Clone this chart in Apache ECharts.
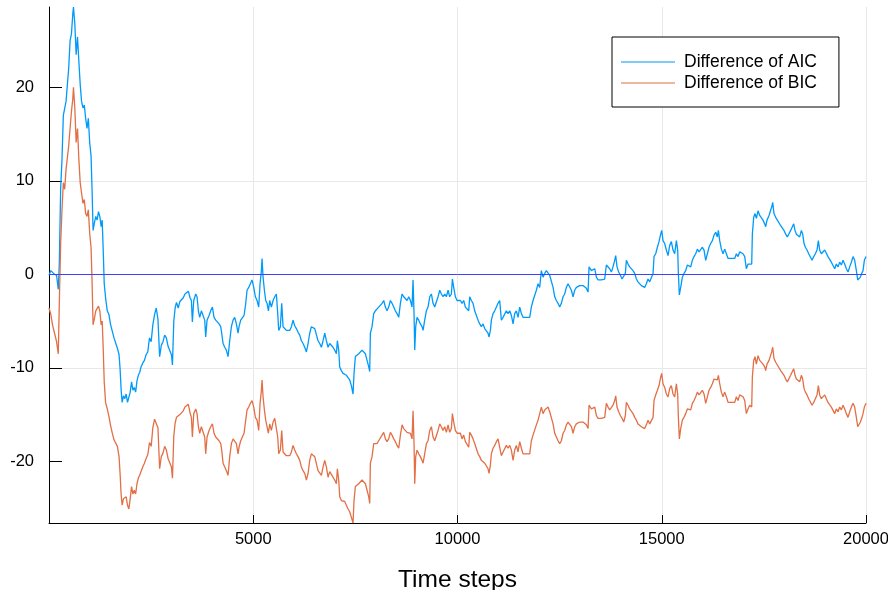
<!DOCTYPE html>
<html>
<head>
<meta charset="utf-8">
<script src="https://cdn.jsdelivr.net/npm/echarts@6/dist/echarts.min.js"></script>
<style>html,body{margin:0;padding:0;background:#fff;}#chart{width:888px;height:590px;}</style>
</head>
<body>
<div id="chart"></div>
<script>
// Time steps (x)
const steps = [
0,45,86,136,185,227,252,285,318,351,384,417,450,483,516,549,583,599,632,665,698,731,764,797,831,864,897,930,963,996,1029,
1054,1079,1112,1145,1178,1211,1244,1277,1302,1327,1352,1385,1426,1467,1509,1550,1591,1633,1674,1715,1740,1765,1790,
1823,1856,1889,1922,1955,1988,2021,2055,2088,2121,2154,2187,2220,2253,2294,2336,2377,2418,2460,2501,2542,2584,2625,2667,2708,2749,2791,2832,2873,2915,2956,2997,3022,
3055,3088,3121,3163,3204,3245,3287,3328,3369,3411,3452,
3486,3510,3543,3592,3624,3657,3690,3730,3771,3812,3836,3869,3918,3959,4000,4040,4081,4122,4163,4204,
4228,4261,4302,4342,4383,4424,4465,4506,4546,4587,4628,4652,4693,4734,4775,4816,4848,4889,4930,4971,
5012,5052,5093,5134,5167,5199,5216,5240,5273,5305,5338,5371,5403,5444,5485,5526,5566,5599,5624,5664,
5697,5730,5770,5811,5852,5893,5934,5974,6015,6056,6097,6138,6178,6219,6260,6301,6342,6382,6423,6464,
6505,6546,6586,6627,6668,6709,6750,6790,6831,6872,
6913,6953,6994,7035,7059,7092,7117,7157,7198,7239,7280,7321,7361,7402,7443,7467,7500,7541,7582,7623,
7663,7704,7745,7786,7827,7851,7867,7908,7949,7990,8031,8071,8112,8153,8194,8235,8275,8316,8357,8398,
8439,8479,8520,8561,8602,8643,8683,8724,8765,8806,8847,8887,8912,8936,8953,8977,9010,9051,9091,9132,
9157,9197,9238,9279,9320,9361,9401,9442,9483,9524,9565,9605,9646,9687,9728,9769,9809,9850,9875,9907,
9948,9989,10030,10071,10111,10152,10193,10234,10275,
10299,10340,10380,10421,10462,10503,10544,10584,10625,10666,10707,10748,10772,10805,
10829,10870,10911,10952,10992,11033,11074,11115,11156,11196,11237,11278,11319,11360,11400,11441,11482,11523,11564,11604,
11645,11686,11727,11768,11808,11849,11890,11931,11972,12012,12053,12094,12135,12176,12216,12257,12298,12339,12380,12420,
12461,12502,12543,12584,12624,12665,12706,12747,12788,12828,12869,12910,12951,12992,13032,13073,13114,13155,13196,
13220,13253,13277,13318,13359,13400,13440,13481,13522,13563,13604,13644,13685,13726,
13767,13807,13848,13873,13905,13946,13987,14028,14069,14109,14134,14175,14215,14256,14297,14338,14379,14419,14460,14501,
14542,14583,14623,14664,14705,14746,14787,14811,14852,14893,14933,14974,14999,15031,15072,15113,15154,15195,15235,15276,
15317,15358,15390,15407,15431,15464,15505,15545,15586,15627,15668,15709,15749,15790,15831,15872,15913,15953,15994,16035,
16076,16117,16157,16198,16239,16280,16321,16361,16386,16419,16459,16500,16541,16582,16623,16663,16704,16745,16786,16827,
16867,16908,16949,16990,17031,17071,17112,17153,
17202,17218,17251,17283,17316,17357,17398,17438,17479,17520,17544,17577,17626,17659,17691,17716,17748,17789,17830,17871,
17912,17952,17993,18034,18075,18116,18156,18197,18230,18263,18295,18336,18377,18418,18450,18483,18516,18556,18597,18638,
18679,18720,18760,18801,18834,18866,18907,18948,18989,19030,19070,19111,19152,19193,19234,19274,19315,19356,19397,19438,
19478,19519,19560,19601,19642,19682,19723,19764,19797,19829,19862,19895,19927,19960,20000
];

// Difference of AIC
const aicDiff = [
-0.1,0.4,0.6,0.0,-0.1,-1.6,1.1,9.1,12.3,17.0,17.0,18.5,20.3,22.1,25.0,25.7,27.9,28.6,26.8,23.5,25.4,22.8,20.3,18.5,17.8,18.1,16.7,15.6,16.7,14.1,12.7,
9.1,4.7,5.5,6.2,5.8,6.7,6.2,5.1,5.8,2.6,-1.0,-2.5,-3.9,-4.3,-5.4,-6.1,-6.8,-6.7,-7.9,-8.6,-10.1,-12.3,-13.7,
-13.0,-13.3,-12.8,-13.7,-13.9,-12.6,-11.5,-12.4,-12.1,-12.6,-11.4,-10.8,-10.5,-9.9,-9.5,-9.2,-8.6,-8.3,-6.8,-7.2,-5.4,-4.3,-3.6,-4.8,-8.8,-7.6,-7.2,-6.5,-6.8,-7.7,-7.9,-8.6,-9.7,
-5.0,-3.6,-3.0,-3.6,-2.9,-2.7,-2.5,-2.1,-2.3,-1.8,-2.5,
-2.8,-5.1,-2.8,-2.1,-2.4,-3.9,-4.6,-3.9,-3.9,-4.9,-6.7,-4.9,-4.4,-3.9,-3.5,-4.6,-4.9,-4.9,-5.3,-5.6,
-6.3,-7.4,-7.8,-8.1,-8.8,-7.1,-5.6,-4.9,-4.6,-5.3,-6.3,-5.6,-4.9,-5.1,-4.4,-3.1,-1.7,-1.4,-1.0,-0.6,
-1.4,-2.4,-2.8,-3.5,-1.0,0.4,1.7,-0.3,-1.7,-2.8,-3.1,-3.9,-2.8,-3.5,-2.8,-2.4,-2.1,-4.2,-6.0,-5.6,
-3.1,-5.6,-5.8,-6.0,-6.2,-6.0,-5.6,-4.9,-5.5,-5.8,-6.2,-6.5,-7.1,-7.4,-7.8,-8.3,-7.4,-6.3,-5.6,-5.5,
-5.8,-5.6,-7.1,-7.4,-7.8,-7.1,-6.3,-7.1,-7.8,-7.4,
-7.4,-7.8,-8.1,-8.5,-7.1,-8.1,-9.9,-10.3,-10.6,-10.4,-10.8,-11.0,-11.3,-11.9,-12.8,-10.6,-8.8,-8.7,-8.5,-8.3,
-8.1,-8.0,-8.5,-9.2,-9.9,-10.4,-6.3,-5.6,-4.2,-3.9,-4.0,-3.5,-3.5,-3.1,-2.8,-3.5,-3.9,-3.5,-2.8,-3.1,
-3.5,-3.9,-4.2,-4.6,-3.1,-2.1,-2.4,-2.4,-2.8,-2.4,-2.8,-3.5,-0.6,-4.2,-8.1,-5.6,-4.6,-4.9,-5.3,-5.6,
-6.0,-4.9,-3.9,-3.5,-2.4,-2.1,-3.1,-3.5,-3.5,-2.4,-1.7,-2.1,-2.4,-2.1,-2.4,-1.7,-2.4,-2.1,-0.5,-1.4,
-2.4,-2.8,-2.6,-2.8,-3.1,-2.8,-3.5,-3.5,-3.9,
-2.4,-2.8,-3.1,-3.9,-3.9,-4.9,-5.3,-5.6,-5.3,-5.8,-6.0,-6.3,-6.7,-6.0,
-4.9,-4.2,-3.9,-3.5,-3.1,-2.8,-4.9,-4.6,-4.4,-3.9,-4.2,-3.9,-4.4,-5.3,-4.2,-3.9,-4.6,-3.5,-4.2,-4.6,
-4.4,-4.6,-4.7,-4.6,-3.5,-2.8,-2.8,-1.7,-1.0,-1.4,0.4,-0.3,0.1,0.4,0.6,-0.1,-0.3,-1.4,-2.4,-2.8,
-3.1,-3.5,-3.1,-2.4,-2.1,-1.4,-1.0,-0.8,-1.7,-2.4,-1.7,-1.4,-1.5,-1.2,-1.4,-1.2,-1.4,-1.5,-1.9,
0.8,1.0,0.4,0.25,0.6,-0.3,-0.6,-0.5,-0.6,-0.6,-0.5,1.0,0.8,0.6,
0.25,0.8,1.5,2.0,0.8,0.25,-0.1,-0.5,-0.6,0.1,1.5,1.1,0.8,0.8,0.4,0.1,-0.5,-0.8,-1.0,-1.2,
-1.0,-1.4,-1.0,-0.5,-0.8,-0.6,0.1,1.9,2.2,2.9,3.5,4.3,4.7,3.6,3.3,2.6,2.0,3.1,3.5,2.6,
2.2,3.6,2.6,0.1,-2.2,-1.4,-0.3,0.1,0.4,1.0,1.1,0.8,1.5,1.9,2.2,2.7,2.4,2.2,2.9,2.6,
1.5,2.2,2.9,3.3,3.6,4.2,4.5,4.0,4.7,3.6,2.7,2.2,2.7,2.2,1.7,1.9,1.7,1.9,1.7,2.2,
1.9,2.4,2.6,2.2,1.9,0.6,1.1,1.3,
1.1,4.3,6.1,6.5,6.0,6.8,6.3,6.1,5.8,5.4,5.1,5.8,6.3,6.5,7.2,7.7,6.5,6.1,5.8,5.6,
5.2,5.1,4.7,4.3,4.0,4.0,4.7,5.1,5.4,4.7,4.3,4.2,4.0,4.7,4.3,3.3,2.9,2.6,2.2,2.0,
1.5,1.9,2.2,2.6,3.6,2.6,2.2,2.0,2.6,2.4,1.9,1.9,1.3,1.1,0.6,1.1,0.8,1.3,1.0,1.5,
1.1,0.6,0.25,0.8,1.3,1.9,1.5,0.4,-0.6,-0.8,-0.3,0.1,0.4,1.5,1.9
];

// Difference of BIC
const bicDiff = [
-3.6,-4.3,-5.4,-6.3,-7.2,-8.5,-3.2,3.3,6.9,9.8,9.1,11.2,11.2,13.8,15.6,17.4,18.8,20.0,17.8,14.1,15.6,12.3,9.8,8.7,7.6,8.0,6.5,6.2,6.9,4.4,2.9,
-0.7,-5.4,-4.7,-3.9,-3.9,-3.4,-3.9,-5.4,-5.0,-7.9,-11.5,-13.7,-14.4,-15.2,-16.2,-17.0,-17.7,-17.5,-18.4,-19.5,-21.3,-23.5,-24.7,
-24.0,-24.2,-23.8,-24.7,-25.1,-24.0,-22.7,-23.5,-23.1,-23.5,-22.4,-21.8,-21.5,-21.1,-20.6,-20.2,-19.7,-19.3,-18.0,-18.4,-16.4,-15.5,-15.3,-16.4,-20.8,-19.5,-19.1,-18.4,-18.8,-19.7,-19.9,-20.6,-21.8,
-17.3,-15.9,-15.3,-15.5,-15.0,-14.8,-14.6,-14.2,-14.4,-13.9,-14.8,
-15.3,-17.4,-14.9,-14.4,-14.9,-16.3,-17.0,-16.3,-16.5,-17.4,-19.2,-17.4,-16.7,-16.3,-16.0,-17.0,-17.4,-17.4,-17.8,-18.1,
-18.8,-20.2,-20.6,-21.0,-21.5,-19.5,-18.1,-17.6,-17.4,-18.1,-19.2,-18.5,-17.8,-17.9,-17.0,-15.6,-14.5,-14.2,-13.8,-13.5,
-14.2,-15.3,-15.6,-16.7,-13.8,-12.4,-11.3,-13.1,-14.5,-15.6,-16.3,-17.0,-16.0,-16.7,-15.8,-15.4,-15.3,-17.4,-19.2,-18.8,
-16.7,-19.0,-19.2,-19.4,-19.5,-19.4,-19.0,-18.3,-18.8,-19.2,-19.5,-19.9,-20.6,-21.0,-21.3,-22.0,-21.3,-19.9,-19.2,-19.0,
-19.5,-19.4,-21.0,-21.1,-21.5,-20.6,-19.9,-20.6,-21.7,-21.1,
-21.1,-21.7,-22.0,-22.4,-20.8,-22.0,-23.8,-24.2,-24.3,-24.3,-24.7,-25.1,-25.4,-26.0,-26.6,-24.2,-22.7,-22.6,-22.4,-22.2,
-22.0,-21.9,-22.4,-23.1,-23.8,-24.5,-20.2,-19.5,-18.1,-17.9,-18.1,-17.8,-17.6,-17.2,-16.9,-17.6,-17.9,-17.6,-16.9,-17.2,
-17.6,-17.9,-18.3,-18.6,-17.2,-16.1,-16.5,-16.5,-16.9,-16.7,-17.0,-17.6,-14.6,-18.1,-22.4,-19.5,-18.8,-19.2,-19.5,-19.9,
-20.2,-19.2,-18.1,-17.8,-16.7,-16.3,-17.4,-17.8,-17.8,-16.7,-16.0,-16.3,-16.7,-16.3,-16.9,-16.1,-16.9,-16.5,-14.9,-15.8,
-16.7,-17.0,-16.9,-17.0,-17.6,-17.2,-17.9,-17.9,-18.5,
-16.9,-17.2,-17.6,-18.1,-18.3,-19.2,-19.5,-19.9,-19.7,-20.2,-20.4,-20.8,-21.3,-20.4,
-19.2,-18.6,-18.3,-17.9,-17.6,-17.4,-19.4,-19.0,-18.8,-18.3,-18.6,-18.3,-18.8,-19.9,-18.8,-18.3,-19.0,-17.9,-18.6,-19.2,
-19.0,-19.2,-19.4,-19.2,-17.8,-17.2,-17.2,-16.1,-15.6,-15.8,-14.2,-14.9,-14.5,-14.4,-14.2,-14.7,-14.9,-16.0,-17.0,-17.4,
-17.8,-18.1,-17.8,-17.0,-16.7,-16.1,-15.8,-15.6,-16.3,-17.0,-16.3,-16.0,-16.1,-15.8,-16.0,-15.8,-16.0,-16.1,-16.5,
-14.0,-13.8,-14.4,-14.5,-14.2,-15.1,-15.4,-15.3,-15.4,-15.4,-15.3,-13.8,-14.2,-14.5,
-14.7,-14.0,-13.5,-13.0,-14.2,-14.7,-15.1,-15.4,-15.8,-15.1,-13.7,-14.0,-14.4,-14.5,-14.9,-15.3,-15.6,-16.0,-16.1,-16.3,
-16.1,-16.5,-16.1,-15.6,-16.0,-15.8,-15.3,-13.5,-12.9,-12.4,-11.9,-11.0,-10.6,-11.7,-12.1,-12.8,-13.1,-12.2,-11.9,-12.8,
-13.1,-11.7,-12.8,-15.3,-17.6,-16.5,-15.6,-15.3,-14.9,-14.4,-14.2,-14.5,-13.8,-13.5,-13.1,-12.6,-12.9,-13.1,-12.4,-12.8,
-13.8,-13.1,-12.4,-12.1,-11.7,-11.2,-11.0,-11.3,-10.8,-11.7,-12.6,-13.1,-12.6,-13.1,-13.7,-13.5,-13.7,-13.5,-13.7,-13.1,
-13.5,-12.9,-12.8,-13.1,-13.5,-14.9,-14.4,-14.0,
-14.2,-11.0,-9.2,-8.8,-9.6,-8.7,-9.2,-9.2,-9.6,-9.9,-10.3,-9.6,-9.2,-9.0,-8.3,-7.8,-9.0,-9.4,-9.7,-9.9,
-10.3,-10.4,-10.8,-11.2,-11.5,-11.5,-10.8,-10.4,-10.1,-10.8,-11.2,-11.3,-11.5,-10.8,-11.2,-12.2,-12.6,-12.9,-13.3,-13.5,
-14.0,-13.7,-13.3,-12.9,-11.9,-12.9,-13.3,-13.5,-12.9,-13.1,-13.7,-13.7,-14.2,-14.4,-14.9,-14.4,-14.7,-14.2,-14.5,-14.0,
-14.4,-14.9,-15.3,-14.7,-14.2,-13.8,-14.2,-15.3,-16.3,-16.5,-15.8,-15.4,-14.9,-14.2,-13.8
];

const yTicks = [-20, -10, 0, 10, 20];
const seriesNames = ['Difference of AIC', 'Difference of BIC'];
const xName = 'Time steps';

const zip = (xs, ys) => xs.map((x, i) => [x, ys[i]]);
const FONT = '"Liberation Sans", Arial, Helvetica, sans-serif';

const chart = echarts.init(document.getElementById('chart'), null, { renderer: 'canvas' });
chart.setOption({
  animation: false,
  backgroundColor: '#ffffff',
  grid: { left: 49, right: 22, top: 7, bottom: 67, containLabel: false, outerBoundsMode: 'none' },
  legend: {
    data: seriesNames,
    orient: 'vertical',
    left: 612, top: 37,
    padding: [16, 22, 15, 9],
    itemGap: 3,
    itemWidth: 54, itemHeight: 1,
    icon: 'rect',
    borderColor: '#000', borderWidth: 1,
    backgroundColor: '#fff',
    textStyle: { fontFamily: FONT, fontSize: 17.5, color: '#000', padding: [0, 0, 0, 4] }
  },
  xAxis: {
    type: 'value', min: 0, max: 20000, interval: 5000,
    name: xName, nameLocation: 'middle', nameGap: 45,
    nameTextStyle: { fontFamily: FONT, fontSize: 24.5, color: '#000' },
    axisLine: { show: true, onZero: false, lineStyle: { color: '#000', width: 1 } },
    axisTick: { show: true, inside: true, length: 8, lineStyle: { color: '#000', width: 1 } },
    axisLabel: { showMinLabel: false, fontFamily: FONT, fontSize: 16.5, color: '#000', margin: 8,
      formatter: v => String(v), hideOverlap: false },
    splitLine: { show: true, showMinLine: false, lineStyle: { color: '#e8e8e8', width: 1 } }
  },
  yAxis: {
    type: 'value', min: -26.6, max: 28.6, splitNumber: 5,
    axisLine: { show: true, onZero: false, lineStyle: { color: '#000', width: 1 } },
    axisTick: { show: true, inside: true, length: 13, customValues: yTicks, lineStyle: { color: '#000', width: 1 } },
    axisLabel: { customValues: yTicks, fontFamily: FONT, fontSize: 16.5, color: '#000', margin: 15 },
    splitLine: { show: true, showMinLine: false, showMaxLine: false, lineStyle: { color: '#e8e8e8', width: 1 } }
  },
  series: [
    {
      name: seriesNames[0], type: 'line', data: zip(steps, aicDiff),
      symbol: 'none', showSymbol: false, color: '#009AFA',
      lineStyle: { color: '#009AFA', width: 1.3 }, z: 2
    },
    {
      name: seriesNames[1], type: 'line', data: zip(steps, bicDiff),
      symbol: 'none', showSymbol: false, color: '#E26F46',
      lineStyle: { color: '#E26F46', width: 1.3 }, z: 2,
      markLine: {
        silent: true, symbol: 'none', label: { show: false },
        lineStyle: { color: '#4040ff', width: 1, type: 'solid' },
        data: [{ yAxis: 0 }], z: 5
      }
    }
  ]
});
</script>
</body>
</html>
